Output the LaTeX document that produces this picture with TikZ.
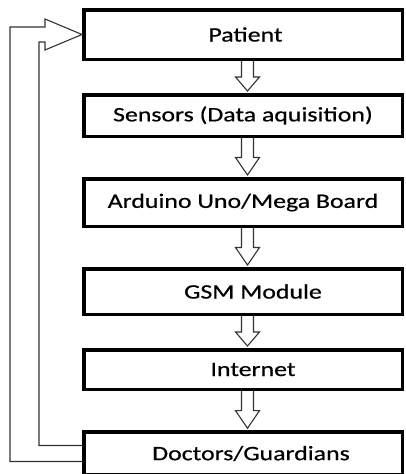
\documentclass[tikz,border=0pt]{standalone}
\usepackage{fontspec}
\setmainfont{Carlito}[FakeStretch=1.26,FakeBold=0.6]
\usetikzlibrary{calc}
\tikzset{box/.style={draw,line width=3.5pt,minimum width=318.5pt,inner sep=0pt,
    font=\fontsize{20.5}{24}\selectfont},
  flow/.style={line width=1.1pt,draw=black!80,line join=miter}}
\newcommand{\downblock}[2]{%
  \draw[flow] ($(#1.south)+(-1.5,0)$) -- ($(#1.south)!.5!(#2.north)+(-1.5,0)$) -- ++(-6,0)
    -- ($(#2.north)+(4.5,-2)$) -- ($(#1.south)!.5!(#2.north)+(16.5,0)$) -- ++(-6,0)
    -- ($(#1.south)+(10.5,0)$);}
\begin{document}
\begin{tikzpicture}[x=1pt,y=-1pt]
  \clip (0,0) rectangle (405,474);
  \node[box,minimum height=49.5pt] (patient) at (243,34.5) {\hspace*{5pt}Patient};
  \node[box,minimum height=41.5pt] (sensors) at (243,115.5) {Sensors (Data aquisition)};
  \node[box,minimum height=47.5pt] (board) at (243,202.5) {Arduino Uno/Mega Board};
  \node[box,minimum height=45.5pt] (gsm) at (243,291.5) {\hspace*{20pt}GSM Module};
  \node[box,minimum height=39.5pt] (internet) at (243,369.5) {\hspace*{20pt}Internet};
  \node[box,minimum height=43pt] (doctors) at (243,453.5) {\hspace*{16pt}Doctors/Guardians};
  \downblock{patient}{sensors}
  \downblock{sensors}{board}
  \downblock{board}{gsm}
  \downblock{gsm}{internet}
  \downblock{internet}{doctors}
  \draw[flow] ($(doctors.west)+(0,-8)$) -| (39,42) -- (45,42) -- (45,50) -- (patient.west)
    -- (45,19) -- (45,27) -- (10,27) |- ($(doctors.west)+(0,8)$);
\end{tikzpicture}
\end{document}
